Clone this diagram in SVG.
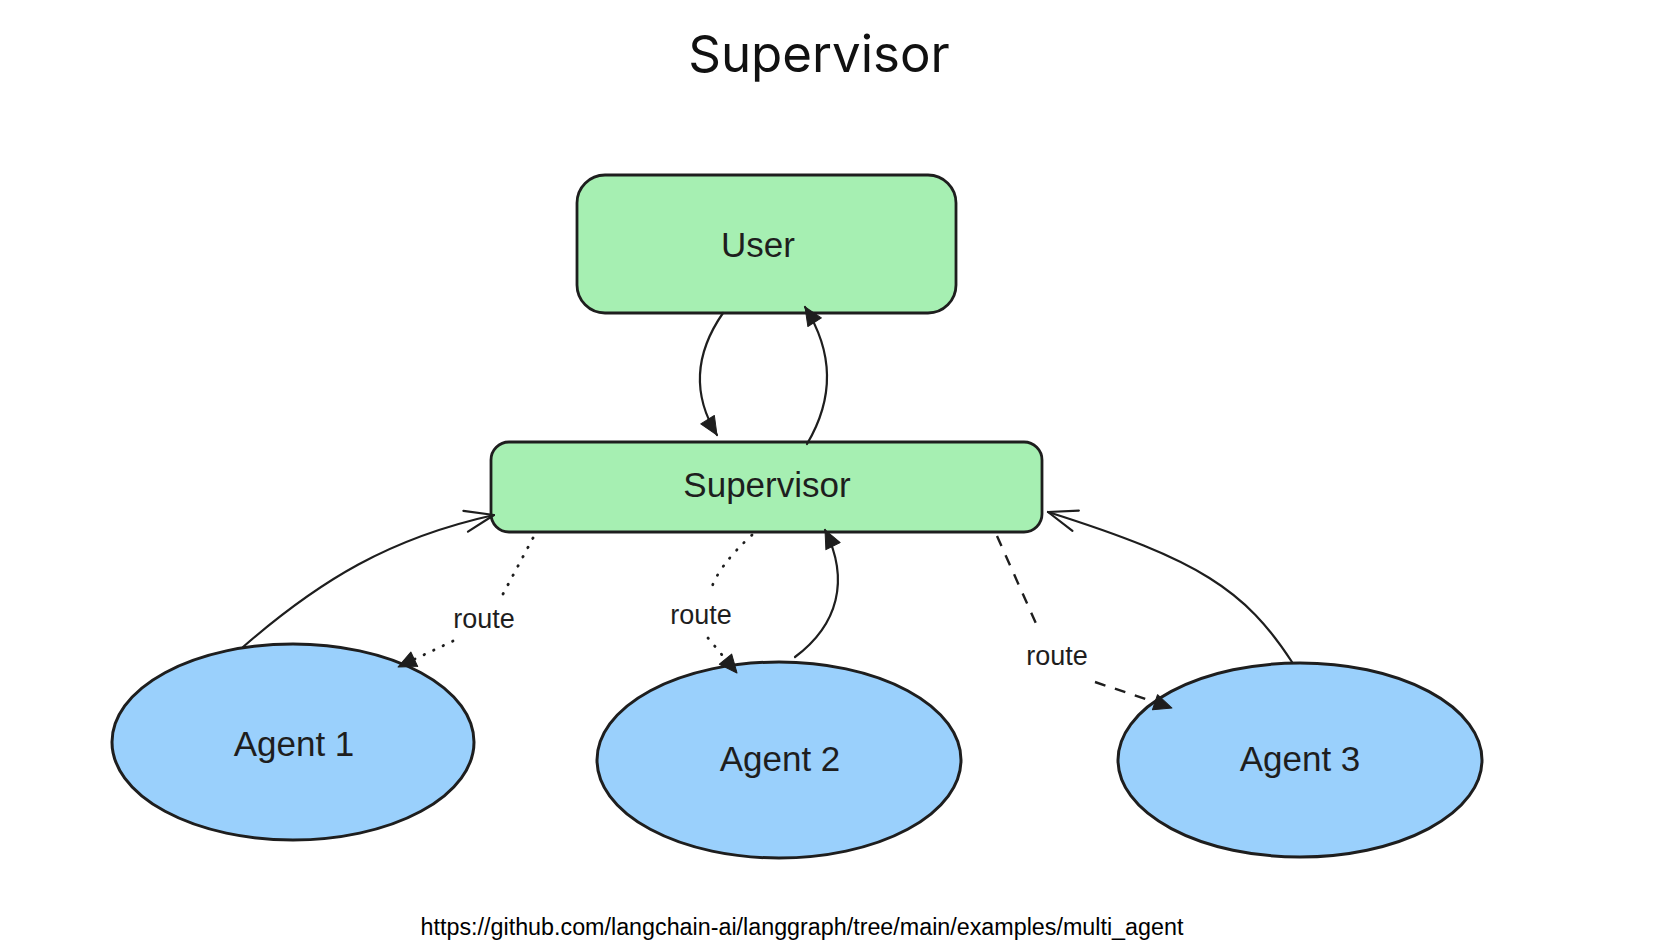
<svg xmlns="http://www.w3.org/2000/svg" width="1664" height="944" viewBox="0 0 1664 944">
  <defs>
    <style>
      .title { font-family: Inter, "Noto Sans", sans-serif; font-size: 51px; fill: #111; text-anchor: middle; }
      .node-box { fill: #a6efb2; stroke: #1e1e1e; stroke-width: 2.8; }
      .node-ell { fill: #9ad0fc; stroke: #1e1e1e; stroke-width: 3; }
      .node-label { font-family: "Liberation Sans", Arial, sans-serif; font-size: 35px; fill: #1e1e1e; text-anchor: middle; }
      .edge { fill: none; stroke: #1e1e1e; stroke-width: 2.2; stroke-linecap: round; }
      .dotted { stroke-width: 2.8; stroke-dasharray: 0.5 10; }
      .dashed { stroke-width: 2.4; stroke-dasharray: 11 10; stroke-linecap: butt; }
      .edge-label { font-family: "Liberation Sans", Arial, sans-serif; font-size: 27px; fill: #1e1e1e; text-anchor: middle; }
      .footer { font-family: "Liberation Sans", Arial, sans-serif; font-size: 23.3px; fill: #000; text-anchor: middle; }
    </style>
    <marker id="head-solid" markerUnits="userSpaceOnUse" markerWidth="20" markerHeight="18" viewBox="0 0 20 18" refX="19" refY="9" orient="auto">
      <path d="M1,1 L19,9 L1,17 Z" fill="#1e1e1e" stroke="#1e1e1e" stroke-width="1" stroke-linejoin="round"/>
    </marker>
    <marker id="head-open" markerUnits="userSpaceOnUse" markerWidth="34" markerHeight="26" viewBox="0 0 34 26" refX="31" refY="13" orient="auto">
      <path d="M2,2.4 L31,13 L2,23.6" fill="none" stroke="#1e1e1e" stroke-width="2.2" stroke-linecap="round" stroke-linejoin="round"/>
    </marker>
  </defs>

  <rect width="1664" height="944" fill="#ffffff"/>

  <text class="title" x="819" y="72">Supervisor</text>

  <!-- Nodes -->
  <g id="node-user">
    <rect class="node-box" x="577" y="175" width="379" height="138" rx="28" ry="28"/>
    <text class="node-label" x="758" y="257">User</text>
  </g>

  <g id="node-supervisor">
    <rect class="node-box" x="491" y="442" width="551" height="90" rx="18" ry="18"/>
    <text class="node-label" x="767" y="497">Supervisor</text>
  </g>

  <g id="node-agent1">
    <ellipse class="node-ell" cx="293" cy="742" rx="181" ry="98"/>
    <text class="node-label" x="294" y="756">Agent 1</text>
  </g>

  <g id="node-agent2">
    <ellipse class="node-ell" cx="779" cy="760" rx="182" ry="98"/>
    <text class="node-label" x="780" y="771">Agent 2</text>
  </g>

  <g id="node-agent3">
    <ellipse class="node-ell" cx="1300" cy="760" rx="182" ry="97"/>
    <text class="node-label" x="1300" y="771">Agent 3</text>
  </g>

  <!-- Connectors, drawn above the nodes so the arrowheads stay visible -->
  <g id="connectors">
    <!-- User -> Supervisor -->
    <path class="edge" d="M723,313 Q680,375 717,435" marker-end="url(#head-solid)"/>
    <!-- Supervisor -> User -->
    <path class="edge" d="M807,444 Q848,375 805,307" marker-end="url(#head-solid)"/>
    <!-- Agent 1 -> Supervisor -->
    <path class="edge" d="M243,647 C320,580 390,538 494,515" marker-end="url(#head-open)"/>
    <!-- Supervisor -> Agent 1 (route) -->
    <path class="edge dotted" d="M533,538 L503,594"/>
    <path class="edge dotted" d="M453,641 L398,667" marker-end="url(#head-solid)"/>
    <text class="edge-label" x="484" y="628">route</text>
    <!-- Supervisor -> Agent 2 (route) -->
    <path class="edge dotted" d="M752,535 Q716,568 710,593"/>
    <path class="edge dotted" d="M708,638 L737,673" marker-end="url(#head-solid)"/>
    <text class="edge-label" x="701" y="624">route</text>
    <!-- Agent 2 -> Supervisor -->
    <path class="edge" d="M795,657 C838,625 850,580 825,530" marker-end="url(#head-solid)"/>
    <!-- Supervisor -> Agent 3 (route) -->
    <path class="edge dashed" d="M997,536 L1038,628"/>
    <path class="edge dashed" d="M1095,682 L1172,708" marker-end="url(#head-solid)"/>
    <text class="edge-label" x="1057" y="665">route</text>
    <!-- Agent 3 -> Supervisor -->
    <path class="edge" d="M1292,662 C1245,590 1200,560 1048,512" marker-end="url(#head-open)"/>
  </g>

  <text class="footer" x="802" y="935">https://github.com/langchain-ai/langgraph/tree/main/examples/multi_agent</text>
</svg>
